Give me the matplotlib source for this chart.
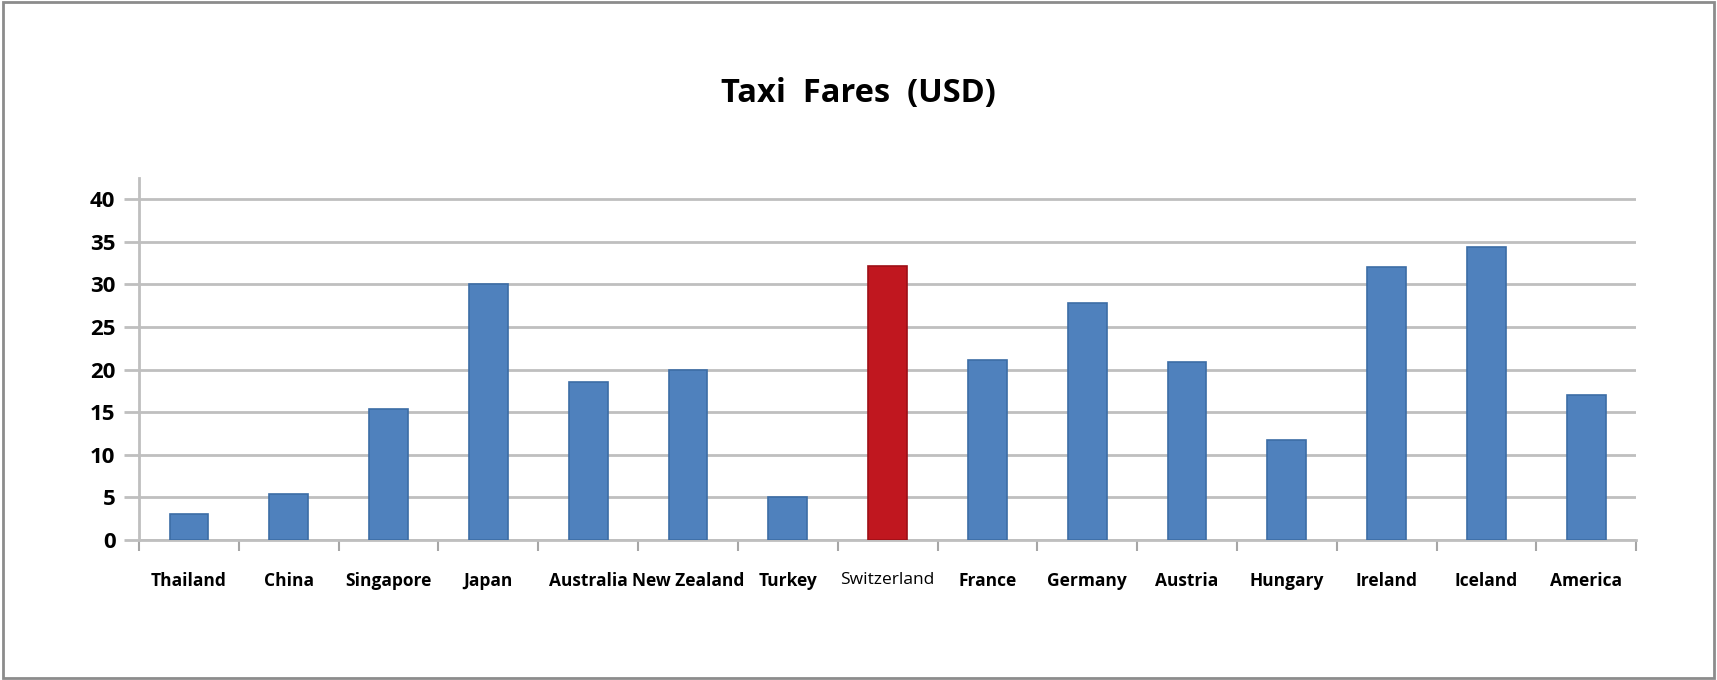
import matplotlib
matplotlib.use("Agg")
import matplotlib.pyplot as plt
from matplotlib.patches import Rectangle
from matplotlib.ticker import FixedLocator

countries = ['Thailand', 'China', 'Singapore', 'Japan', 'Australia', 'New Zealand',
             'Turkey', 'Switzerland', 'France', 'Germany', 'Austria', 'Hungary',
             'Ireland', 'Iceland', 'America']
fares = [3.0, 5.4, 15.4, 30.0, 18.5, 20.0, 5.1, 32.2, 21.1, 27.8, 20.9, 11.7, 32.0, 34.4, 17.0]
highlight = 'Switzerland'
yticks = [0, 5, 10, 15, 20, 25, 30, 35, 40]

plt.rcParams['font.family'] = ['Open Sans', 'DejaVu Sans']

fig = plt.figure(figsize=(17.17, 6.8), dpi=100)
ax = fig.add_axes([0.081, 0.2059, 0.8719, 0.5324])

blue, blue_edge = '#4F81BD', '#3C6DA6'
red, red_edge = '#C0171F', '#9E0F16'
colors = [red if c == highlight else blue for c in countries]
edges = [red_edge if c == highlight else blue_edge for c in countries]

x = list(range(len(countries)))
ax.bar(x, fares, width=0.39, color=colors, edgecolor=edges, linewidth=1.2, zorder=3)

ax.set_xlim(-0.5, len(countries) - 0.5)
ax.set_ylim(0, 42.5)
ax.set_yticks(yticks)
ax.set_yticklabels([str(v) for v in yticks], fontsize=16, fontweight='bold')
ax.yaxis.grid(True, color='#BFBFBF', linewidth=2, zorder=0)
ax.tick_params(axis='y', length=11, width=2, color='#BFBFBF', pad=6)

ax.set_xticks(x)
ax.set_xticklabels(countries, fontsize=12.5)
for lbl in ax.get_xticklabels():
    lbl.set_fontweight('normal' if lbl.get_text() == highlight else 'bold')
ax.tick_params(axis='x', which='major', length=0, pad=23)
ax.xaxis.set_minor_locator(FixedLocator([i - 0.5 for i in range(len(countries) + 1)]))
ax.tick_params(axis='x', which='minor', length=8, width=1.5, color='#A6A6A6')

for s in ['top', 'right']:
    ax.spines[s].set_visible(False)
for s in ['left', 'bottom']:
    ax.spines[s].set_color('#BFBFBF')
    ax.spines[s].set_linewidth(2)

fig.text(0.5, 0.862, 'Taxi  Fares  (USD)', ha='center', va='center',
         fontsize=23.5, fontweight='bold')

fig.patches.append(Rectangle((0.002, 0.003), 0.996, 0.994, transform=fig.transFigure,
                             fill=False, edgecolor='#8C8C8C', linewidth=2))

fig.savefig('out.png', dpi=100)
